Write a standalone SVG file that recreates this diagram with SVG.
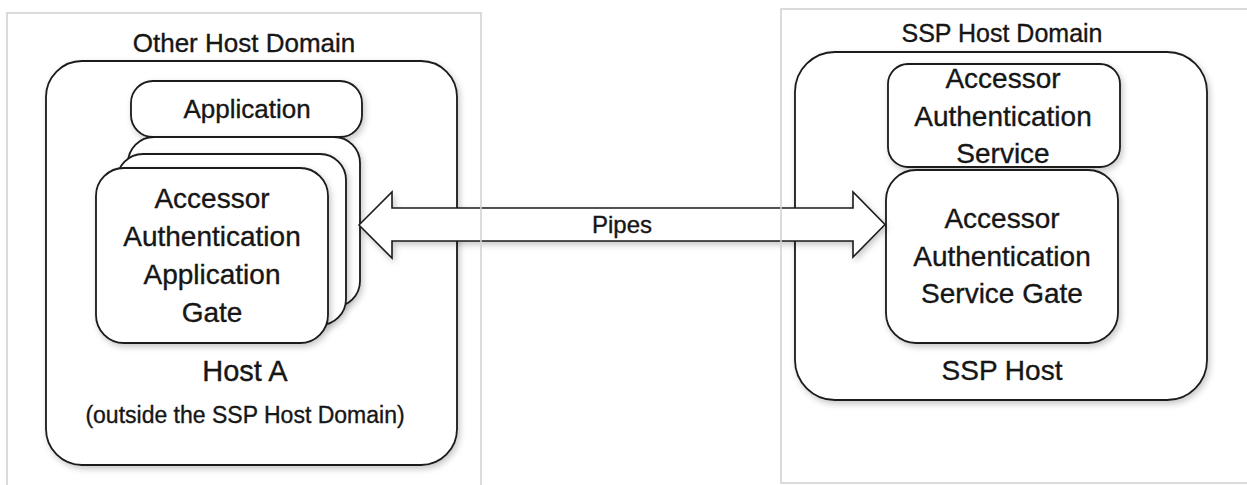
<svg xmlns="http://www.w3.org/2000/svg" width="1247" height="485" viewBox="0 0 1247 485">
  <style>
    text { font-family: "Liberation Sans", Arial, sans-serif; fill: #161616; stroke: #161616; stroke-width: 0.35; text-anchor: middle; }
    .box { fill: #ffffff; stroke: #1a1a1a; stroke-width: 1.8; }
    .frame { fill: none; stroke: #d2d2d2; stroke-width: 1.6; }
    .lbl { font-size: 25px; }
    .big { font-size: 28px; }
    .host { font-size: 29px; }
    .small { font-size: 23px; }
  </style>
  <defs>
    <filter id="sh" x="-10%" y="-10%" width="130%" height="130%">
      <feDropShadow dx="2" dy="3" stdDeviation="3" flood-color="#000" flood-opacity="0.22"/>
    </filter>
  </defs>
  <rect width="1247" height="485" fill="#ffffff"/>

  <g id="host-a">
    <rect class="box" x="46" y="61" width="411" height="404" rx="36" filter="url(#sh)"/>
    <text class="host" x="245" y="381">Host A</text>
    <text class="small" x="245" y="423">(outside the SSP Host Domain)</text>
  </g>

  <g id="application">
    <rect class="box" x="131" y="81" width="231" height="56" rx="22" filter="url(#sh)"/>
    <text class="lbl" x="247" y="118" style="font-size:26px">Application</text>
  </g>

  <g id="aaag">
    <rect class="box" x="128" y="137" width="232" height="170" rx="26" filter="url(#sh)"/>
    <rect class="box" x="117" y="154" width="229" height="171" rx="26" filter="url(#sh)"/>
    <rect class="box" x="96" y="168" width="232" height="175" rx="28" filter="url(#sh)"/>
    <text class="big" x="212" y="208">Accessor</text>
    <text class="big" x="212" y="246">Authentication</text>
    <text class="big" x="212" y="284">Application</text>
    <text class="big" x="212" y="322">Gate</text>
  </g>

  <g id="ssp-host">
    <rect class="box" x="795" y="52" width="412" height="348" rx="40" filter="url(#sh)"/>
    <text class="big" x="1002" y="380">SSP Host</text>
  </g>

  <g id="aas">
    <rect class="box" x="888" y="64" width="232" height="103" rx="20" filter="url(#sh)"/>
    <text class="big" x="1003" y="88">Accessor</text>
    <text class="big" x="1003" y="126">Authentication</text>
    <text class="big" x="1003" y="163">Service</text>
  </g>

  <g id="aasg">
    <rect class="box" x="886" y="170" width="232" height="173" rx="30" filter="url(#sh)"/>
    <text class="big" x="1002" y="228">Accessor</text>
    <text class="big" x="1002" y="266">Authentication</text>
    <text class="big" x="1002" y="303">Service Gate</text>
  </g>

  <g id="connectors">
    <polygon points="359,225 392,192 392,208 853,208 853,192 885,224.5 853,257 853,241 392,241 392,258" fill="#ffffff" stroke="#1a1a1a" stroke-width="1.6" stroke-linejoin="miter" filter="url(#sh)"/>
    <text class="small" x="622" y="233" style="font-size:24px">Pipes</text>
  </g>

  <g id="other-host-domain">
    <rect class="frame" x="7" y="13" width="474" height="480"/>
    <text class="lbl" x="244" y="52" style="font-size:26px">Other Host Domain</text>
  </g>

  <g id="ssp-host-domain">
    <rect class="frame" x="781" y="9" width="480" height="474"/>
    <text class="lbl" x="1002" y="42">SSP Host Domain</text>
  </g>
</svg>
